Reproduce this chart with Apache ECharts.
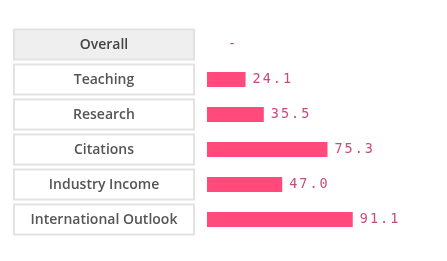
<!DOCTYPE html>
<html><head><meta charset="utf-8">
<script src="https://cdn.jsdelivr.net/npm/echarts@6/dist/echarts.min.js"></script>
<style>html,body{margin:0;padding:0;background:#fff}#c{width:447px;height:261px}</style>
</head><body><div id="c"></div>
<script>
const categories = ['Overall','Teaching','Research','Citations','Industry Income','International Outlook'];
const scores = [null, 24.1, 35.5, 75.3, 47.0, 91.1];
const missingLabel = '-';

const chart = echarts.init(document.getElementById('c'), null, {renderer:'canvas'});
const boxBase = {width:178, height:26, padding:[2,0,0,0], align:'center', verticalAlign:'middle', fontFamily:'Open Sans', fontWeight:600, fontSize:14, color:'#555', borderWidth:2, borderColor:'#e2e2e2'};
function spaced(s){ return s.split('').map(ch => '{c|' + ch + '}').join(''); }
chart.setOption({
  animation:false,
  grid:{left:207, width:160, top:27, bottom:24},
  xAxis:{type:'value', min:0, max:100, show:false},
  yAxis:{type:'category', data:categories, inverse:true,
    axisLine:{show:false}, axisTick:{show:false},
    axisLabel:{margin:14,
      formatter:(v,i)=> i===0 ? '{h|'+v+'}' : '{n|'+v+'}',
      rich:{h:Object.assign({}, boxBase, {backgroundColor:'#efefef', color:'#444'}),
            n:Object.assign({}, boxBase, {backgroundColor:'#fff'})}}
  },
  series:[{type:'bar', barWidth:15,
    data: scores.map((v)=> v===null ? {value:0, label:{offset:[14,0]}} : v),
    itemStyle:{color:'#ff4a7b'},
    label:{show:true, position:'right', distance:7,
      fontFamily:'DejaVu Sans Mono', fontSize:13.5, color:'#c94478',
      rich:{c:{padding:[0,2,0,0], fontFamily:'DejaVu Sans Mono', fontSize:13.5, color:'#c94a7c'}},
      formatter:(p)=> scores[p.dataIndex]===null ? missingLabel : spaced(scores[p.dataIndex].toFixed(1))}
  }]
});
</script></body></html>
